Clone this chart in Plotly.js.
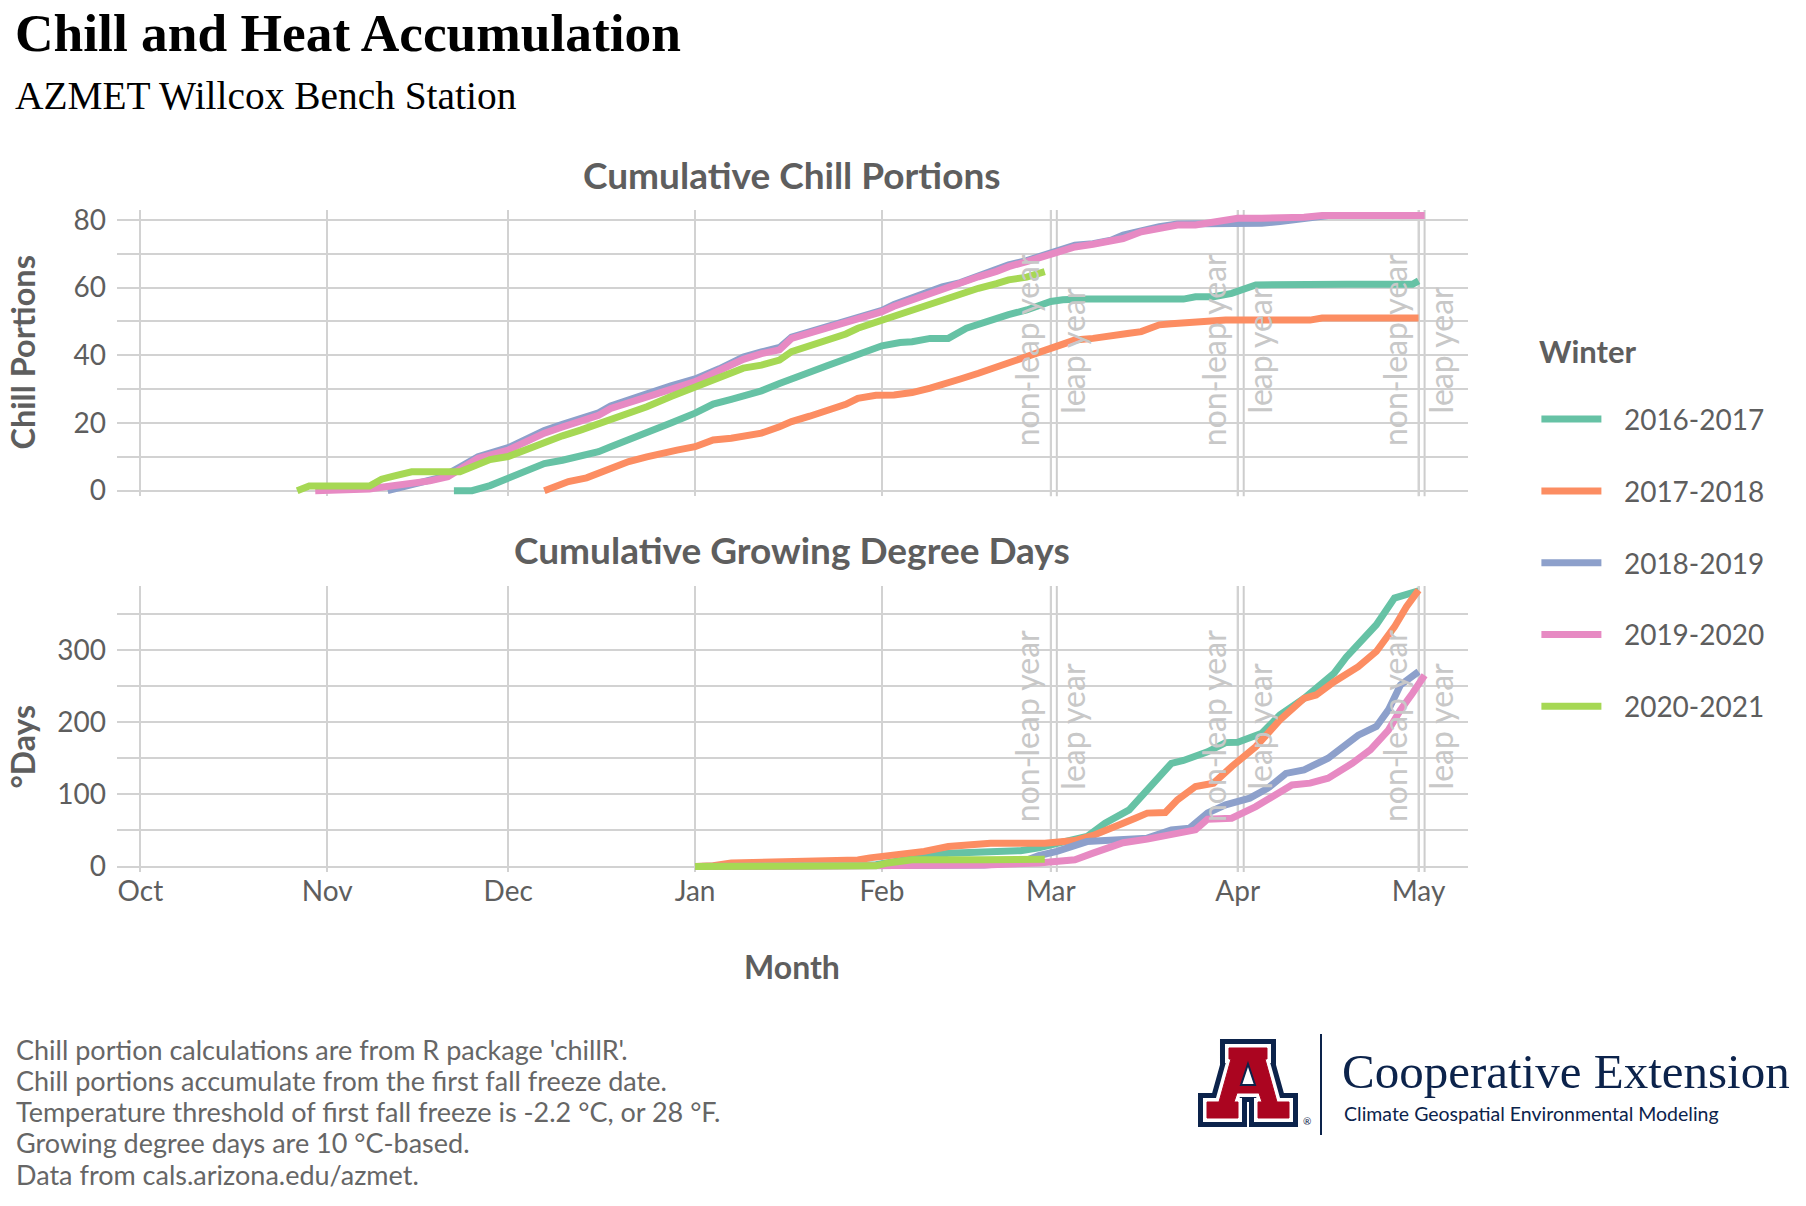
<!DOCTYPE html>
<html>
<head>
<meta charset="utf-8">
<script src="https://cdn.plot.ly/plotly-3.0.1.min.js"></script>
<style>
  html, body { margin: 0; padding: 0; background: #ffffff; }
  #chart { width: 1806px; height: 1206px; }
</style>
</head>
<body>
<div id="chart"></div>
<script>
// ---------------- DATA ----------------
// x = days since 1 October (non-leap calendar)
const seasons = ['2016-2017', '2017-2018', '2018-2019', '2019-2020', '2020-2021'];
const seasonColors = ['#66C2A5', '#FC8D62', '#8DA0CB', '#E78AC3', '#A6D854'];

const monthDays = [0, 31, 61, 92, 123, 151, 182, 212];
const monthLabels = ['Oct', 'Nov', 'Dec', 'Jan', 'Feb', 'Mar', 'Apr', 'May'];
const nonLeapLineDays = [151, 182, 212];   // 1 Mar, 1 Apr, 1 May in a non-leap winter
const leapLineDays = [152, 183, 213];      // same dates in a leap winter

// Cumulative chill portions
const cp_day_2016 = [52, 55, 58, 61, 64, 67, 70, 73, 76, 78, 81, 84, 88, 92, 95, 98, 101, 103, 106, 108, 111, 114, 117, 119, 123, 126, 128, 131, 134, 137, 141, 144, 147, 151, 153, 156, 165, 173, 175, 178, 181, 183, 185, 200, 211, 212];
const cp_val_2016 = [0, 0, 1.5, 3.6, 5.5, 8, 9, 10, 11.5, 13, 15, 17, 20, 22.9, 25.6, 27, 28.5, 29.5, 31.7, 33.2, 35, 37, 39, 40.6, 42.8, 43.8, 44, 45, 45, 48, 50.4, 52, 53.4, 55.9, 56.4, 56.6, 56.6, 56.6, 57.3, 57.3, 58.3, 59.5, 60.8, 61, 61, 62];

const cp_day_2017 = [67, 69, 71, 74, 76, 79, 81, 84, 87, 89, 92, 95, 98, 101, 103, 106, 108, 111, 114, 117, 119, 122, 125, 128, 131, 133, 136, 139, 142, 144, 147, 150, 152, 155, 158, 161, 164, 166, 169, 171, 175, 178, 180, 194, 196, 212];
const cp_val_2017 = [0, 1.5, 2.7, 3.8, 5.1, 6.8, 8.6, 10, 11.5, 12, 13, 15, 15.5, 16.2, 17, 18.9, 20.4, 22, 23.8, 25.5, 27.3, 28.2, 28.3, 29, 30.3, 31.2, 33, 34.7, 36.5, 38.1, 40, 41.8, 43, 44.5, 45, 45.5, 46.5, 47, 49, 49.3, 49.6, 49.8, 50.4, 50.4, 51, 51];

const cp_day_2018 = [41, 43, 46, 50, 53, 56, 61, 64, 67, 70, 73, 76, 78, 81, 84, 88, 92, 96, 100, 103, 106, 108, 111, 114, 117, 119, 123, 125, 128, 131, 133, 136, 139, 142, 144, 147, 151, 153, 155, 158, 161, 163, 166, 169, 172, 175, 177, 182, 186, 189, 192, 195, 197, 212];
const cp_val_2018 = [0, 1, 2.5, 4, 7, 10, 12.7, 15.5, 17.8, 19.6, 21.2, 23, 25, 27, 28.6, 31, 33, 36, 39.5, 41, 42.3, 45.4, 47, 48.4, 50, 51.3, 53.3, 55, 57, 58.5, 60.2, 61.5, 63.6, 65.3, 66.7, 68, 70.5, 71.5, 72.5, 73, 74, 75.5, 77, 78, 78.8, 78.8, 78.8, 78.8, 79, 79.5, 80.2, 81, 81.3, 81.3];

const cp_day_2019 = [29, 33, 38, 40, 43, 46, 48, 51, 54, 56, 59, 61, 64, 67, 70, 73, 76, 78, 81, 84, 88, 92, 96, 100, 103, 106, 108, 111, 114, 117, 119, 123, 125, 128, 131, 133, 136, 139, 142, 144, 147, 151, 153, 155, 158, 161, 163, 166, 169, 172, 175, 177, 180, 182, 186, 190, 193, 196, 200, 213];
const cp_val_2019 = [0, 0, 0.5, 1, 1.7, 2.2, 2.9, 4.1, 7.1, 9.6, 11, 12, 14.5, 17, 18.8, 20.4, 22.3, 24.3, 26, 27.8, 30, 32.2, 35.5, 38.8, 40.5, 41.6, 45, 46.5, 48, 49.5, 50.9, 52.9, 54.5, 56.4, 58, 59.8, 61.5, 63.2, 64.8, 66.2, 67.7, 70.1, 71, 72, 72.8, 73.6, 74.5, 76.5, 77.5, 78.5, 78.5, 79, 79.5, 80.5, 80.5, 80.5, 80.8, 81.3, 81.3, 81.3];

const cp_day_2020 = [26, 28, 38, 40, 42, 45, 53, 56, 58, 61, 64, 67, 70, 73, 76, 78, 81, 84, 88, 92, 96, 100, 103, 106, 108, 111, 114, 117, 119, 123, 125, 128, 131, 133, 136, 139, 142, 144, 147, 150];
const cp_val_2020 = [0, 1.4, 1.4, 3.4, 4.3, 5.6, 5.6, 8.1, 9.2, 10.1, 12.3, 14.5, 16.2, 17.9, 19.7, 21.4, 23, 24.8, 27.8, 30.7, 33.5, 36.2, 37.1, 38.6, 41.1, 42.8, 44.5, 46.3, 48, 50.4, 51.8, 53.4, 55, 56.4, 58, 59.8, 61.2, 62.3, 63.1, 64.7];

// Cumulative growing degree days (°C-days, 10 °C base)
const gdd_day_2016 = [92, 110, 122, 126, 128, 131, 134, 141, 146, 149, 152, 154, 157, 160, 164, 167, 171, 173, 177, 180, 182, 186, 189, 193, 196, 198, 200, 202, 205, 208, 210, 212];
const gdd_val_2016 = [0, 0.5, 2.5, 8, 11.5, 15, 18.5, 20.8, 22, 26, 33, 36, 41.6, 60, 78.5, 106, 143, 147, 159, 171.7, 172.3, 184.6, 210, 233, 255, 268, 290, 309, 335, 372, 378, 382];

const gdd_day_2017 = [92, 95, 98, 110, 119, 121, 125, 128, 130, 134, 137, 141, 150, 153, 155, 158, 160, 163, 165, 167, 170, 172, 175, 178, 181, 185, 189, 193, 195, 198, 202, 205, 208, 210, 212];
const gdd_val_2017 = [0, 1, 5, 6, 9, 12, 16, 18, 21, 27.7, 30, 32.3, 32.3, 34, 36, 43, 50.8, 60, 67, 74, 74.8, 92.4, 110.8, 115.5, 138.5, 166, 203, 233, 237.7, 256, 277, 298, 332, 360, 383];

const gdd_day_2018 = [92, 120, 140, 146, 149, 152, 154, 157, 160, 163, 167, 171, 174, 177, 180, 184, 187, 190, 193, 197, 202, 205, 207, 209, 212];
const gdd_val_2018 = [0, 0.3, 2, 6, 15, 21, 26, 34.6, 36, 37.9, 39.3, 50.8, 53, 74, 85.4, 94.7, 108.5, 129, 134, 150, 182, 194, 217, 251.6, 270];

const gdd_day_2019 = [92, 125, 140, 149, 152, 155, 158, 163, 167, 171, 175, 177, 181, 185, 188, 191, 194, 197, 201, 204, 207, 209, 211, 213];
const gdd_val_2019 = [0, 0, 2, 5, 7, 9.3, 18.5, 33, 38, 43.9, 50.8, 65.6, 67, 83, 97, 113, 115.5, 122.4, 143, 161.6, 189, 217, 240, 265];

const gdd_day_2020 = [92, 110, 122, 124, 126, 128, 140, 150];
const gdd_val_2020 = [0, 0.5, 1, 5, 8, 9.3, 9.5, 10];

const chillDays = [cp_day_2016, cp_day_2017, cp_day_2018, cp_day_2019, cp_day_2020];
const chillVals = [cp_val_2016, cp_val_2017, cp_val_2018, cp_val_2019, cp_val_2020];
const gddDays = [gdd_day_2016, gdd_day_2017, gdd_day_2018, gdd_day_2019, gdd_day_2020];
const gddVals = [gdd_val_2016, gdd_val_2017, gdd_val_2018, gdd_val_2019, gdd_val_2020];

const footnotes = [
  "Chill portion calculations are from R package 'chillR'.",
  "Chill portions accumulate from the first fall freeze date.",
  "Temperature threshold of first fall freeze is -2.2 °C, or 28 °F.",
  "Growing degree days are 10 °C-based.",
  "Data from cals.arizona.edu/azmet."
];

// ---------------- LAYOUT HELPERS ----------------
const W = 1806, H = 1206;
const ML = 117, MR = W - 1468, MT = 210, MB = H - 872;
const PW = W - ML - MR, PH = H - MT - MB;
const px = x => (x - ML) / PW;          // pixel -> paper x
const py = y => (H - MB - y) / PH;      // pixel -> paper y
const FONT = 'Lato, "Source Sans Pro", "Noto Sans", sans-serif';
const SERIF = '"Liberation Serif", "DejaVu Serif", serif';
const GREY = '#5e5e5e';
const GRID = '#d2d2d2';
const NAVY = '#0C234B';
const RED = '#AB0520';

// ---------------- TRACES ----------------
const traces = [];
seasons.forEach((s, i) => {
  traces.push({
    type: 'scatter', mode: 'lines', name: '\u2002\u2009' + s, legendgroup: s, showlegend: true,
    x: chillDays[i], y: chillVals[i], xaxis: 'x', yaxis: 'y',
    line: { color: seasonColors[i], width: 7 }, hoverinfo: 'skip'
  });
});
seasons.forEach((s, i) => {
  traces.push({
    type: 'scatter', mode: 'lines', name: s, legendgroup: s, showlegend: false,
    x: gddDays[i], y: gddVals[i], xaxis: 'x2', yaxis: 'y2',
    line: { color: seasonColors[i], width: 7 }, hoverinfo: 'skip'
  });
});

// ---------------- SHAPES ----------------
const shapes = [];
[nonLeapLineDays, leapLineDays].forEach(arr => arr.forEach(d => {
  shapes.push({ type: 'line', layer: 'below', xref: 'x', yref: 'y domain', x0: d, x1: d, y0: 0, y1: 1, line: { color: '#cdcdcd', width: 2 } });
  shapes.push({ type: 'line', layer: 'below', xref: 'x2', yref: 'y2 domain', x0: d, x1: d, y0: 0, y1: 1, line: { color: '#cdcdcd', width: 2 } });
}));

// Arizona block "A" logo (local 100 x 88 box placed at pixel 1198,1039)
const LX = 1198, LY = 1039;
function logoPath(pts) {
  return pts.map((p, k) => (k ? 'L' : 'M') + px(LX + p[0]).toFixed(5) + ',' + py(LY + p[1]).toFixed(5)).join(' ') + ' Z';
}
const aShape = [[31, 9], [69, 9], [69, 20], [67, 20], [79, 63], [91, 63], [91, 79], [60, 79], [60, 63], [64, 63], [61, 54], [39, 54], [36, 63], [40, 63], [40, 79], [9, 79], [9, 63], [21, 63], [33, 20], [31, 20]];
const aCounter = [[50, 25], [57, 46], [43, 46]];
shapes.push({ type: 'path', xref: 'paper', yref: 'paper', path: logoPath(aShape), fillcolor: NAVY, line: { color: NAVY, width: 18 } });
shapes.push({ type: 'path', xref: 'paper', yref: 'paper', path: logoPath(aShape), fillcolor: '#ffffff', line: { color: '#ffffff', width: 8 } });
shapes.push({ type: 'path', xref: 'paper', yref: 'paper', path: logoPath(aShape), fillcolor: RED, line: { color: RED, width: 1 } });
shapes.push({ type: 'path', xref: 'paper', yref: 'paper', path: logoPath(aCounter), fillcolor: '#ffffff', line: { color: NAVY, width: 2 } });
shapes.push({ type: 'line', xref: 'paper', yref: 'paper', x0: px(1321), x1: px(1321), y0: py(1034), y1: py(1135), line: { color: NAVY, width: 2 } });

// ---------------- ANNOTATIONS ----------------
const ann = [];
function txt(text, x, y, size, opts) {
  ann.push(Object.assign({
    text: text, xref: 'paper', yref: 'paper', x: px(x), y: py(y), showarrow: false,
    xanchor: 'left', yanchor: 'middle', font: { family: FONT, size: size, color: GREY }
  }, opts || {}));
}
txt('<b>Chill and Heat Accumulation</b>', 13, 33, 53.4, { font: { family: SERIF, size: 53.4, color: '#000000' } });
txt('AZMET Willcox Bench Station', 13, 96, 39.4, { font: { family: SERIF, size: 39.4, color: '#000000' } });
txt('<b>Cumulative Chill Portions</b>', 792, 174, 37, { xanchor: 'center' });
txt('<b>Cumulative Growing Degree Days</b>', 792, 549, 37, { xanchor: 'center' });
txt('<b>Chill Portions</b>', 0, 353, 32.5, { xanchor: 'left', textangle: -90 });
txt('<b>°Days</b>', 0, 747, 32, { xanchor: 'left', textangle: -90 });
txt('<b>Month</b>', 792, 966, 32, { xanchor: 'center' });
txt('<b>Winter</b>', 1537, 351, 31);
const footY = [1049.3, 1080.4, 1111.5, 1142.6, 1174.9];
footnotes.forEach((f, k) => txt(f, 14, footY[k], 27, { font: { family: FONT, size: 27, color: '#666666' } }));
txt('Cooperative Extension', 1340, 1071, 49, { font: { family: SERIF, size: 49, color: NAVY } });
txt('Climate Geospatial Environmental Modeling', 1342, 1113, 19.5, { font: { family: FONT, size: 19.5, color: NAVY } });
txt('®', 1301, 1121, 10, { font: { family: FONT, size: 10, color: NAVY } });

// leap-year labels, placed in data coordinates of each panel
nonLeapLineDays.forEach((d, k) => {
  const lx = leapLineDays[k];
  [['x', 'y', 41.5], ['x2', 'y2', 194.5]].forEach(([xr, yr, yc]) => {
    ann.push({ text: 'non-leap year', xref: xr, yref: yr, x: d - 4.1, y: yc, showarrow: false, textangle: -90, xanchor: 'center', yanchor: 'middle', font: { family: FONT, size: 32, color: '#c8c8c8' } });
    ann.push({ text: 'leap year', xref: xr, yref: yr, x: lx + 2.6, y: yc, showarrow: false, textangle: -90, xanchor: 'center', yanchor: 'middle', font: { family: FONT, size: 32, color: '#c8c8c8' } });
  });
});

// ---------------- AXES ----------------
const xCommon = {
  range: [-3.88, 220.2], tickmode: 'array', tickvals: monthDays, ticktext: monthLabels,
  showgrid: true, gridcolor: GRID, gridwidth: 2, zeroline: false, showline: false, ticks: '',
  tickfont: { family: FONT, size: 28, color: GREY }, fixedrange: true
};
const layout = {
  width: W, height: H,
  margin: { l: ML, r: MR, t: MT, b: MB, pad: 0 },
  paper_bgcolor: '#ffffff', plot_bgcolor: '#ffffff',
  showlegend: true,
  xaxis: Object.assign({}, xCommon, { domain: [0, 1], anchor: 'y', showticklabels: false }),
  xaxis2: Object.assign({}, xCommon, { domain: [0, 1], anchor: 'y2', showticklabels: true, ticklabelstandoff: 0 }),
  yaxis: {
    domain: [py(496.2), 1], anchor: 'x', range: [-1.63, 82.93],
    tickmode: 'array', tickvals: [0, 10, 20, 30, 40, 50, 60, 70, 80], ticktext: ['0', '', '20', '', '40', '', '60', '', '80'],
    showgrid: true, gridcolor: GRID, gridwidth: 2, zeroline: false, ticks: '', ticklabelstandoff: 10,
    tickfont: { family: FONT, size: 28, color: GREY }, fixedrange: true
  },
  yaxis2: {
    domain: [0, py(586)], anchor: 'x2', range: [-7.6, 388.7],
    tickmode: 'array', tickvals: [0, 50, 100, 150, 200, 250, 300, 350], ticktext: ['0', '', '100', '', '200', '', '300', ''],
    showgrid: true, gridcolor: GRID, gridwidth: 2, zeroline: false, ticks: '', ticklabelstandoff: 10,
    tickfont: { family: FONT, size: 28, color: GREY }, fixedrange: true
  },
  legend: {
    x: px(1536.4), xanchor: 'left', y: py(394.4), yanchor: 'top',
    bgcolor: 'rgba(0,0,0,0)', borderwidth: 0,
    font: { family: FONT, size: 28, color: GREY },
    traceorder: 'grouped', tracegroupgap: 32.4, itemwidth: 60
  },
  shapes: shapes,
  annotations: ann
};

Plotly.newPlot('chart', traces, layout, { staticPlot: true, displayModeBar: false });
</script>
</body>
</html>
